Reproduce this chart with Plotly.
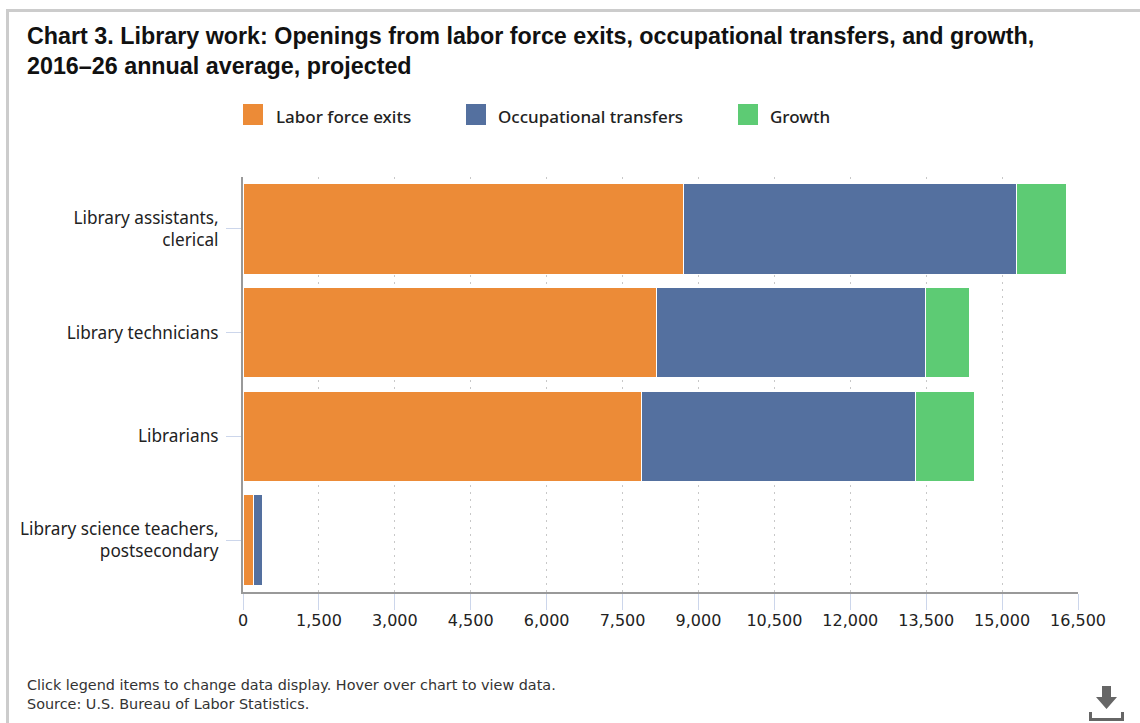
import plotly.graph_objects as go

# Annual average openings by occupation, 2016-26
occupations = [
    "Library assistants,<br>clerical",
    "Library technicians",
    "Librarians",
    "Library science teachers,<br>postsecondary",
]
labor_force_exits = [8700, 8170, 7870, 200]
occupational_transfers = [6580, 5320, 5410, 180]
growth = [990, 870, 1170, 0]
x_ticks = list(range(0, 16501, 1500))

series_names = ["Labor force exits", "Occupational transfers", "Growth"]
series_colors = ["#EC8B37", "#54709F", "#5DCB74"]
series_values = [labor_force_exits, occupational_transfers, growth]

W, H = 1140, 723
PLOT_L, PLOT_R, PLOT_T, PLOT_B = 243, 1078, 177, 592
LABEL_FONT = "Noto Sans"
TICK_FONT = "DejaVu Sans"


# Page pixels to paper coordinates, which are measured from the plot area
def px(x):
    return (x - PLOT_L) / (PLOT_R - PLOT_L)


def py(y):
    return (PLOT_B - y) / (PLOT_B - PLOT_T)


def rect(x0, y0, x1, y1, color):
    return dict(type="rect", xref="paper", yref="paper", x0=px(x0), x1=px(x1),
                y0=py(y1), y1=py(y0), fillcolor=color, line_width=0, layer="above")


fig = go.Figure()
for name, color, values in zip(series_names, series_colors, series_values):
    fig.add_trace(go.Bar(
        name=name, y=occupations, x=values, orientation="h",
        marker=dict(color=color, line=dict(color="white", width=1)),
        showlegend=False,
    ))

# Panel frame, legend swatches and download glyph
shapes = [
    rect(6, 9, W, 12, "#CCCCCC"),
    rect(6, 9, 9, H, "#CCCCCC"),
    dict(type="path", xref="paper", yref="paper", line_width=0, fillcolor="#666666",
         path="M {} {} L {} {} L {} {} L {} {} L {} {} L {} {} L {} {} Z".format(
             px(1102), py(686), px(1111), py(686), px(1111), py(697),
             px(1117), py(697), px(1106.5), py(709), px(1096), py(697), px(1102), py(697))),
    rect(1089, 712, 1092, 721, "#666666"),
    rect(1089, 718, 1124, 721, "#666666"),
    rect(1121, 712, 1124, 721, "#666666"),
]

legend_x = [(243, 274), (466, 496), (738, 768)]
annotations = []
for name, color, (sw, tx) in zip(series_names, series_colors, legend_x):
    shapes.append(rect(sw, 104, sw + 20, 125, color))
    annotations.append(dict(
        text=name, xref="paper", yref="paper", x=px(tx), y=py(116.5),
        xanchor="left", yanchor="middle", showarrow=False,
        font=dict(family=LABEL_FONT, size=17, color="#222222", weight=500),
    ))

annotations.append(dict(
    text="Click legend items to change data display. Hover over chart to view data.<br>"
         "Source: U.S. Bureau of Labor Statistics.",
    xref="paper", yref="paper", x=px(25), y=py(694.5), xanchor="left", yanchor="middle",
    align="left", showarrow=False,
    font=dict(family=TICK_FONT, size=14.4, color="#333333"),
))

fig.update_layout(
    width=W, height=H, autosize=False,
    margin=dict(l=PLOT_L, r=W - PLOT_R, t=PLOT_T, b=H - PLOT_B),
    paper_bgcolor="white", plot_bgcolor="white",
    barmode="stack", bargap=0.13,
    title=dict(
        text="<b>Chart 3. Library work: Openings from labor force exits, occupational transfers, and growth,"
             "<br>2016–26 annual average, projected</b>",
        x=27 / W, xanchor="left", xref="container",
        y=1 - 44 / H, yanchor="top", yref="container",
        font=dict(family="Liberation Sans", size=23.3, color="#111111"),
    ),
    xaxis=dict(
        range=[0, 16500], tickvals=x_ticks, tickformat=",",
        showgrid=True, gridcolor="#C8C8C8", griddash="2px,5px", gridwidth=1, zeroline=False,
        showline=True, linecolor="#999999", linewidth=2,
        ticks="outside", ticklen=16, tickcolor="#CCD6EB", tickwidth=1,
        ticklabelstandoff=-3,
        tickfont=dict(family=TICK_FONT, size=16, color="#222222"),
    ),
    yaxis=dict(
        categoryorder="array", categoryarray=occupations, autorange="reversed",
        showgrid=False, zeroline=False,
        showline=True, linecolor="#999999", linewidth=2,
        ticks="outside", ticklen=15, tickcolor="#CCD6EB", tickwidth=1,
        ticklabelstandoff=4,
        tickfont=dict(family=LABEL_FONT, size=17.2, color="#222222"),
    ),
    shapes=shapes,
    annotations=annotations,
)

fig.write_html("out.html", config={"displayModeBar": False})
